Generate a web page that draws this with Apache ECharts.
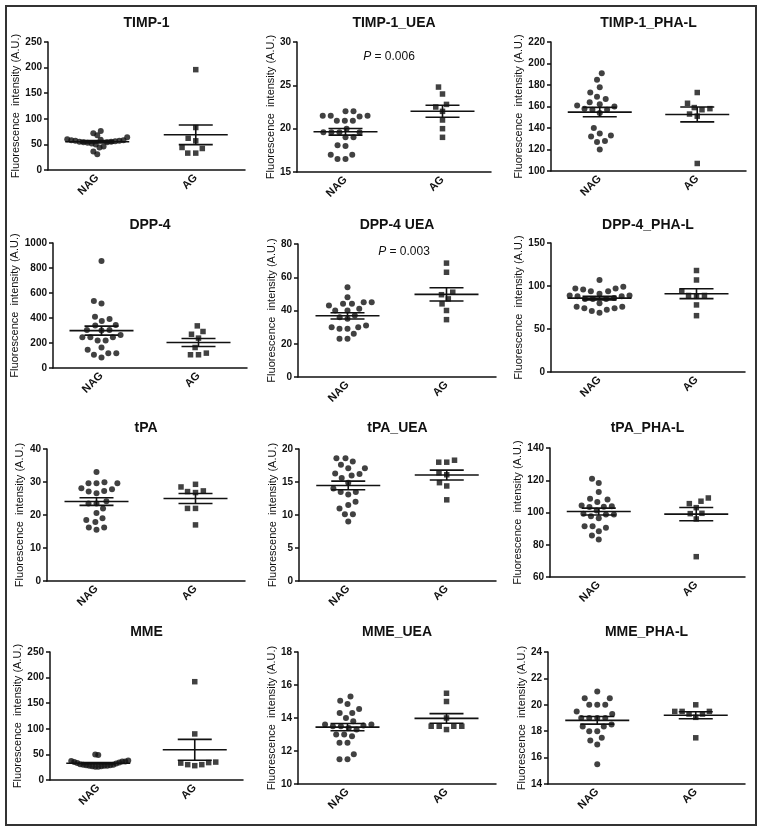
<!DOCTYPE html>
<html><head><meta charset="utf-8">
<script src="https://cdn.jsdelivr.net/npm/echarts@6/dist/echarts.min.js"></script>
<style>html,body{margin:0;padding:0;background:#fff}#c{width:762px;height:831px}</style>
</head><body><div id="c"></div>
<script>
// ---------- data ----------
const groups = ['NAG', 'AG'];
const panelTitles = ['TIMP-1','TIMP-1_UEA','TIMP-1_PHA-L','DPP-4','DPP-4 UEA','DPP-4_PHA-L','tPA','tPA_UEA','tPA_PHA-L','MME','MME_UEA','MME_PHA-L'];
const pLabels = [null,'0.006',null,null,'0.003',null,null,null,null,null,null,null];
const yTickMin  = [0, 15, 100, 0, 0, 0, 0, 0, 60, 0, 10, 14];
const yTickMax  = [250, 30, 220, 1000, 80, 150, 40, 20, 140, 250, 18, 24];
const yTickStep = [50, 5, 20, 200, 20, 50, 10, 5, 20, 50, 2, 2];
const yAxisName = 'Fluorescence  intensity (A.U.)';

const timp1_NAG = [76, 72, 68, 64, 60, 59, 58, 58, 57, 57, 56, 55, 55, 54, 54, 53, 52, 50, 46, 44, 36, 31];
const timp1_AG  = [196, 83, 62, 57, 44, 42, 33, 33];
const timp1Uea_NAG = [22.0, 22.0, 21.5, 21.5, 21.5, 21.4, 20.9, 20.9, 20.9, 20.0, 19.6, 19.6, 19.6, 19.6, 19.0, 19.0, 18.1, 18.0, 17.0, 17.0, 16.5, 16.5];
const timp1Uea_AG  = [24.8, 24.0, 22.8, 22.5, 22.0, 21.0, 20.0, 19.0];
const timp1Pha_NAG = [191, 185, 178, 173, 169, 167, 164, 162, 161, 160, 158, 157, 157, 154, 140, 135, 133, 132, 128, 127, 120];
const timp1Pha_AG  = [173, 163, 159, 158, 157, 153, 151, 107];
const dpp4_NAG = [857, 536, 517, 411, 393, 377, 345, 340, 305, 305, 300, 265, 247, 247, 247, 220, 220, 164, 146, 119, 119, 106, 85];
const dpp4_AG  = [337, 292, 270, 239, 164, 119, 106, 106];
const dpp4Uea_NAG = [54, 48, 45, 45, 44, 44, 43, 41, 40, 40, 37, 36, 35, 31, 30, 30, 29, 29, 26, 23, 23];
const dpp4Uea_AG  = [68.5, 63, 51, 49.5, 47, 44, 40, 34.5];
const dpp4Pha_NAG = [107, 99, 97, 97, 96, 94, 94, 91, 89, 89, 88, 88, 86, 85, 85, 85, 80, 76, 76, 74, 74, 72.5, 71, 69];
const dpp4Pha_AG  = [118, 107, 94, 89, 89, 88, 78, 65.5];
const tpa_NAG = [33, 29.9, 29.6, 29.6, 29.6, 28.1, 27.8, 27.3, 27.1, 26.6, 24.2, 23.5, 23.5, 22, 20.6, 19, 18.5, 17.9, 16.2, 16.2, 15.5];
const tpa_AG  = [29.3, 28.5, 27.3, 27.1, 26.8, 22, 22, 17];
const tpaUea_NAG = [18.6, 18.6, 18.1, 17.6, 17.1, 17.1, 16.3, 16.2, 16.0, 15.6, 14.9, 14.0, 13.5, 13.5, 13.1, 12.0, 11.5, 11.0, 10.1, 10.1, 9.0];
const tpaUea_AG  = [18.3, 18, 18, 16.4, 16.1, 14.9, 14.4, 12.3];
const tpaPha_NAG = [121, 118.3, 112.7, 108.6, 108, 106.5, 104.4, 103.8, 103.6, 103.4, 101.3, 99.3, 98.7, 98.7, 97.6, 96.5, 91.4, 91.4, 90.6, 88.3, 85.8, 83.2];
const tpaPha_AG  = [109, 107, 105.5, 103, 99.5, 99.3, 96, 72.6];
const mme_NAG = [50, 49, 38, 37, 36, 36, 35, 34, 33, 32, 31, 30, 30, 29, 29, 28, 28, 28, 27, 27, 26, 26];
const mme_AG  = [192, 90, 35, 34, 33, 30, 30, 28];
const mmeUea_NAG = [15.3, 15.05, 14.85, 14.55, 14.3, 14.3, 14.0, 13.8, 13.6, 13.6, 13.55, 13.5, 13.5, 13.4, 13.3, 13.0, 13.0, 12.9, 12.5, 12.5, 11.8, 11.5, 11.5];
const mmeUea_AG  = [15.5, 15.0, 14.0, 13.5, 13.5, 13.5, 13.5, 13.3];
const mmePha_NAG = [21, 20.5, 20.5, 20, 20, 20, 19.5, 19.3, 19, 19, 19, 19, 18.5, 18.35, 18.35, 18, 18, 17.5, 17.3, 17, 15.5];
const mmePha_AG  = [20, 19.5, 19.5, 19.5, 19.3, 19.3, 19.05, 17.5];

const nagSets = [timp1_NAG, timp1Uea_NAG, timp1Pha_NAG, dpp4_NAG, dpp4Uea_NAG, dpp4Pha_NAG, tpa_NAG, tpaUea_NAG, tpaPha_NAG, mme_NAG, mmeUea_NAG, mmePha_NAG];
const agSets  = [timp1_AG, timp1Uea_AG, timp1Pha_AG, dpp4_AG, dpp4Uea_AG, dpp4Pha_AG, tpa_AG, tpaUea_AG, tpaPha_AG, mme_AG, mmeUea_AG, mmePha_AG];

// ---------- layout (pixels: left, top, right, bottom of plot area) ----------
const gridRects = [
  [48, 42, 245, 170], [297, 42, 491, 172], [551, 42, 746, 171],
  [53, 243, 247, 368], [298, 244, 496, 377], [551, 243, 745, 372],
  [47, 449, 245, 581], [299, 449, 496, 581], [550, 448, 745, 577],
  [50, 652, 243, 780], [298, 652, 496, 784], [548, 652, 745, 784]
];
const titleY = [23, 225, 428, 632];
const pPos = { 1: [389, 57], 4: [404, 252] };
const colBase = [0, 254, 508];

const FONT = "'Liberation Sans', Arial, Helvetica, sans-serif";
const INK = '#111';

function stats(a) {
  const n = a.length;
  const m = a.reduce((s, v) => s + v, 0) / n;
  const sd = Math.sqrt(a.reduce((s, v) => s + (v - m) * (v - m), 0) / (n - 1));
  return [m, sd / Math.sqrt(n)];
}

// beeswarm offsets (pixels) for a group; lowest values placed first
function swarm(values, pxPerUnit, D, maxW) {
  const order = values.map((v, i) => i).sort((a, b) => values[a] - values[b]);
  const placed = [];
  const off = new Array(values.length);
  order.forEach(i => {
    const y = values[i] * pxPerUnit;
    const cands = [0];
    placed.forEach(p => {
      const dy = Math.abs(p.y - y);
      if (dy < D) { const w = Math.sqrt(D * D - dy * dy); cands.push(p.x + w + 0.01, p.x - w - 0.01); }
    });
    const ok = cands.filter(c => placed.every(p => { const dx = c - p.x, dy = p.y - y; return dx * dx + dy * dy >= D * D - 0.05; }));
    ok.sort((a, b) => (Math.abs(a) - Math.abs(b)) || (a - b));
    const x = ok[0];
    placed.push({ x, y });
    off[i] = x;
  });
  const mx = Math.max(...off.map(Math.abs));
  if (mx > maxW) { for (let k = 0; k < off.length; k++) off[k] *= maxW / mx; }
  return off;
}

const grids = [], xAxes = [], yAxes = [], series = [], graphics = [];

panelTitles.forEach((title, i) => {
  const [L, T, R, B] = gridRects[i];
  const W = R - L, H = B - T;
  const col = i % 3, row = Math.floor(i / 3);
  const pxPerX = W / 2;
  const pxPerY = H / (yTickMax[i] - yTickMin[i]);
  grids.push({ left: L, top: T, width: W, height: H, containLabel: false });
  xAxes.push({
    gridIndex: i, type: 'category', data: groups, boundaryGap: true, position: 'bottom',
    axisLine: { onZero: false, lineStyle: { color: INK, width: 1.5 } },
    axisTick: { alignWithLabel: true, length: 4, lineStyle: { color: INK, width: 1.5 } },
    axisLabel: { rotate: 45, interval: 0, margin: 6, color: INK, fontSize: 11, fontWeight: 'bold', fontFamily: FONT },
    splitLine: { show: false }
  });
  xAxes.push({ gridIndex: i, type: 'value', min: 0, max: 2, show: false });
  yAxes.push({
    gridIndex: i, type: 'value', min: yTickMin[i], max: yTickMax[i], interval: yTickStep[i],
    axisLine: { show: true, onZero: false, lineStyle: { color: INK, width: 1.5 } },
    axisTick: { show: true, length: 4, lineStyle: { color: INK, width: 1.5 } },
    axisLabel: { margin: 6, color: INK, fontSize: 10, fontWeight: 'bold', fontFamily: FONT, formatter: v => String(v) },
    splitLine: { show: false },
    name: yAxisName, nameLocation: 'middle', nameGap: L - colBase[col] - 25,
    nameTextStyle: { color: INK, fontSize: 11, fontFamily: FONT }
  });

  const sets = [nagSets[i], agSets[i]];
  const meanHalf = 32 / pxPerX, semHalf = 17 / pxPerX;
  const statData = [];
  sets.forEach((vals, g) => {
    const offs = swarm(vals.map(v => v - yTickMin[i]), pxPerY, 8, g === 0 ? 30 : 21);
    const xc = 0.5 + g;
    series.push({
      type: 'scatter', xAxisIndex: 2 * i + 1, yAxisIndex: i,
      symbol: g === 0 ? 'circle' : 'rect', symbolSize: g === 0 ? 6 : 5.5,
      itemStyle: { color: INK }, silent: true, z: 2,
      data: vals.map((v, k) => [xc + offs[k] / pxPerX, v])
    });
    const [m, se] = stats(vals);
    statData.push([xc, m, m - se, m + se]);
  });
  series.push({
    type: 'custom', xAxisIndex: 2 * i + 1, yAxisIndex: i, z: 3, silent: true,
    encode: { x: 0, y: 1 },
    data: statData,
    renderItem: function (params, api) {
      const xc = api.value(0), m = api.value(1), lo = api.value(2), hi = api.value(3);
      const st = { stroke: INK, lineWidth: 1.6, fill: null };
      const seg = (a, b) => ({ type: 'line', shape: { x1: a[0], y1: a[1], x2: b[0], y2: b[1] }, style: st });
      return { type: 'group', children: [
        seg(api.coord([xc - meanHalf, m]), api.coord([xc + meanHalf, m])),
        seg(api.coord([xc - semHalf, hi]), api.coord([xc + semHalf, hi])),
        seg(api.coord([xc - semHalf, lo]), api.coord([xc + semHalf, lo])),
        seg(api.coord([xc, hi]), api.coord([xc, lo]))
      ]};
    }
  });

  graphics.push({
    type: 'text', x: L + W / 2, y: titleY[row],
    style: { text: title, align: 'center', verticalAlign: 'middle', textAlign: 'center', textVerticalAlign: 'middle',
             fill: INK, font: "bold 14px " + FONT }
  });
  if (pLabels[i]) {
    const [px, py] = pPos[i];
    graphics.push({
      type: 'text', x: px, y: py,
      style: { text: '{i|P} = ' + pLabels[i], align: 'center', verticalAlign: 'middle', textAlign: 'center', textVerticalAlign: 'middle',
               fill: INK, font: "12px " + FONT,
               rich: { i: { fontStyle: 'italic', fontSize: 12, fontFamily: FONT, fill: INK, color: INK } } }
    });
  }
});

graphics.push({
  type: 'rect', shape: { x: 6, y: 6, width: 750, height: 819 },
  style: { fill: null, stroke: '#333', lineWidth: 2 }, silent: true
});

const chart = echarts.init(document.getElementById('c'), null, { renderer: 'canvas' });
chart.setOption({
  animation: false,
  backgroundColor: '#fff',
  grid: grids, xAxis: xAxes, yAxis: yAxes, series: series,
  graphic: graphics
});
</script>
</body></html>
